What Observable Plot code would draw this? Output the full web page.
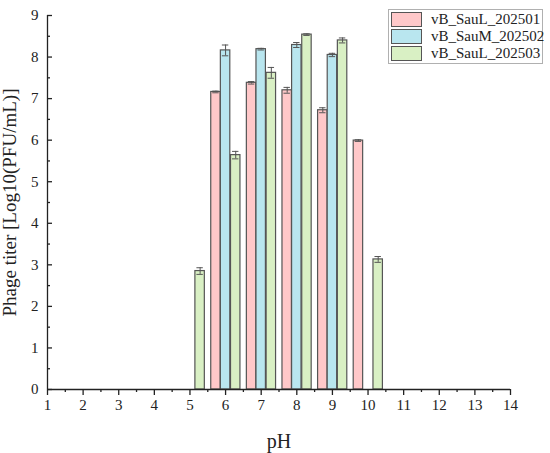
<!DOCTYPE html>
<html>
<head>
<meta charset="utf-8">
<script src="https://cdn.jsdelivr.net/npm/d3@7"></script>
<script src="https://cdn.jsdelivr.net/npm/@observablehq/plot@0.6"></script>
<style>
  body { margin: 0; background: #fff; }
  #wrap { position: relative; width: 550px; height: 453px; font-family: "Liberation Serif", "Times New Roman", serif; }
  #wrap svg text { font-family: "Liberation Serif", "Times New Roman", serif; }
  #legend { position: absolute; left: 388px; top: 9px; width: 153px; height: 53px; border: 1px solid #b0b0b0; background: #fff; box-sizing: content-box; }
  .row { position: absolute; left: 2px; height: 15px; display: flex; align-items: center; }
  .sw { width: 31px; height: 15px; border: 1px solid #555; box-sizing: border-box; }
  .lt { margin-left: 9px; font-size: 15px; color: #222; line-height: 15px; white-space: nowrap; }
</style>
</head>
<body>
<div id="wrap"></div>
<script>
const pH = [5, 6, 7, 8, 9, 10];
const seriesNames = ["vB_SauL_202501", "vB_SauM_202502", "vB_SauL_202503"];
const seriesColors = ["#ffc8c9", "#b9e6ef", "#d9f0c4"];
const titer202501 = [null, 7.16, 7.38, 7.20, 6.72, 5.99];
const err202501   = [null, 0.02, 0.03, 0.07, 0.06, 0.02];
const titer202502 = [null, 8.16, 8.19, 8.29, 8.05, null];
const err202502   = [null, 0.13, 0.02, 0.06, 0.04, null];
const titer202503 = [2.85, 5.64, 7.62, 8.54, 8.40, 3.13];
const err202503   = [0.08, 0.09, 0.13, 0.02, 0.06, 0.07];
const xTicks = d3.range(1, 15);
const yTicks = d3.range(0, 10);

const offsets = [-0.27, 0, 0.285];
const bw = 0.265;
const cap = 0.09;

const values = [titer202501, titer202502, titer202503];
const errs = [err202501, err202502, err202503];
const rows = [];
values.forEach((vals, s) => {
  vals.forEach((v, i) => {
    if (v != null) rows.push({series: seriesNames[s], s, pH: pH[i], x: pH[i] + offsets[s], v, e: errs[s][i]});
  });
});

const font = '"Liberation Serif", "Times New Roman", serif';

const plot = Plot.plot({
  width: 550,
  height: 453,
  marginLeft: 47,
  marginRight: 40,
  marginTop: 15,
  marginBottom: 64,
  style: {fontFamily: font, fontSize: "15px", background: "#fff", color: "#222"},
  x: {domain: [1, 14]},
  y: {domain: [0, 9]},
  color: {domain: seriesNames, range: seriesColors},
  marks: [
    Plot.rectY(rows, {
      x1: d => d.x - bw / 2, x2: d => d.x + bw / 2, y1: 0, y2: "v",
      fill: "series", stroke: "#555", strokeWidth: 1.2
    }),
    Plot.ruleX(rows, {x: "x", y1: d => d.v - d.e, y2: d => d.v + d.e, stroke: "#555", strokeWidth: 1}),
    Plot.ruleY(rows, {y: d => d.v + d.e, x1: d => d.x - cap, x2: d => d.x + cap, stroke: "#555", strokeWidth: 1}),
    Plot.ruleY(rows, {y: d => d.v - d.e, x1: d => d.x - cap, x2: d => d.x + cap, stroke: "#555", strokeWidth: 1}),
    Plot.ruleY([0], {x1: 1, x2: 14, stroke: "#222", strokeWidth: 1.3}),
    Plot.ruleX([1], {y1: 0, y2: 9, stroke: "#222", strokeWidth: 1.3}),
    Plot.axisX({ticks: xTicks, tickSize: 6, tickPadding: 4, fontSize: 15, fontFamily: font, stroke: "#222", strokeWidth: 1.3,
      label: "pH", labelAnchor: "center", labelArrow: "none", labelOffset: 58}),
    Plot.axisX({ticks: d3.range(1.5, 14, 1), tickSize: 3, text: null, label: null, stroke: "#222", strokeWidth: 1.3}),
    Plot.axisY({ticks: yTicks, tickSize: -5, tickPadding: 14, fontSize: 15, fontFamily: font, stroke: "#222", strokeWidth: 1.3,
      label: "Phage titer [Log10(PFU/mL)]", labelAnchor: "center", labelArrow: "none", labelOffset: 45}),
    Plot.axisY({ticks: d3.range(0.5, 9, 1), tickSize: -3, text: null, label: null, stroke: "#222", strokeWidth: 1.3})
  ]
});

plot.querySelectorAll("text").forEach(t => { t.setAttribute("font-family", font); t.style.fontFamily = font; });
plot.querySelectorAll("g[aria-label='x-axis tick label'] text, g[aria-label='y-axis tick label'] text")
  .forEach(t => { t.setAttribute("font-size", 15); t.style.fontSize = "15px"; });
plot.querySelectorAll("g[aria-label='x-axis label'] text").forEach(t => t.setAttribute("font-size", 20));
plot.querySelectorAll("g[aria-label='y-axis label'] text").forEach(t => t.setAttribute("font-size", 19));

const wrap = document.getElementById("wrap");
wrap.appendChild(plot);

const legend = document.createElement("div");
legend.id = "legend";
seriesNames.forEach((n, i) => {
  const r = document.createElement("div");
  r.className = "row";
  r.style.top = (1.5 + i * 17.3) + "px";
  const sw = document.createElement("div");
  sw.className = "sw";
  sw.style.background = seriesColors[i];
  const t = document.createElement("span");
  t.className = "lt";
  t.textContent = n;
  r.appendChild(sw); r.appendChild(t);
  legend.appendChild(r);
});
wrap.appendChild(legend);
</script>
</body>
</html>
